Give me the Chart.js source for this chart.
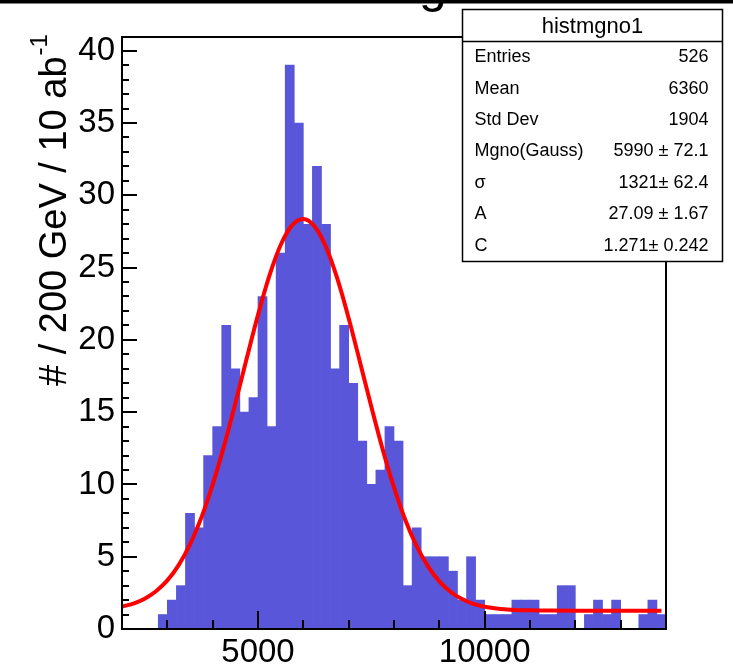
<!DOCTYPE html>
<html>
<head>
<meta charset="utf-8">
<script src="https://cdn.jsdelivr.net/npm/chart.js@4.4.1/dist/chart.umd.min.js"></script>
<style>
  html, body { margin: 0; padding: 0; background: #fff; }
  canvas { display: block; }
</style>
</head>
<body>
<canvas id="histChart" width="733" height="667"></canvas>
<script>
// histogram: 200 GeV bins from 2000 to 14000
const binStart = 2000;
const binWidth = 200;
const binCounts = [
  0, 0, 0, 0, 1, 2, 3, 8, 7, 12,
  14, 21, 18, 15, 16, 23, 14, 26, 39, 35,
  28, 32, 28, 18, 21, 17, 13, 10, 11, 14,
  13, 3, 7, 5, 5, 5, 4, 2, 5, 2,
  1, 1, 1, 2, 2, 2, 1, 1, 3, 3,
  0, 1, 2, 1, 2, 0, 0, 1, 2, 1
];

// fit curve
const curveX = [2000, 2250, 2500, 2750, 3000, 3250, 3500, 3750, 4000, 4250,
  4500, 4750, 5000, 5250, 5500, 5750, 6000, 6250, 6500, 6750,
  7000, 7250, 7500, 7750, 8000, 8250, 8500, 8750, 9000, 9250,
  9500, 9750, 10000, 10500, 11000, 11500, 12000, 13000, 13900];
const curveY = [1.55, 1.76, 2.1, 2.61, 3.36, 4.42, 5.86, 7.7, 9.99, 12.65,
  15.61, 18.71, 21.73, 24.43, 26.56, 27.92, 28.36, 27.84, 26.42, 24.23,
  21.5, 18.46, 15.37, 12.42, 9.79, 7.54, 5.73, 4.33, 3.29, 2.56,
  2.07, 1.74, 1.54, 1.35, 1.29, 1.275, 1.271, 1.271, 1.271];

const xTickLabels = [5000, 10000];
const yTickStep = 5;

const statTitle = 'histmgno1';
const statLabels = ['Entries', 'Mean', 'Std Dev', 'Mgno(Gauss)', '\u03c3', 'A', 'C'];
const statValues = ['526', '6360', '1904', '5990 \u00b1 72.1', '1321\u00b1 62.4', '27.09 \u00b1 1.67', '1.271\u00b1 0.242'];

const yTitle = '# / 200 GeV / 10 ab';
const yTitleSup = '-1';

const FONT = '"Liberation Sans", Arial, Helvetica, sans-serif';
Chart.defaults.font.family = FONT;
Chart.defaults.color = '#000';

const barData = binCounts.map((c, i) => ({ x: binStart + binWidth * (i + 0.5), y: c }));
const curveData = curveX.map((x, i) => ({ x: x, y: curveY[i] }));

// frame and inward ticks, ROOT style
const frameAndTicks = {
  id: 'frameAndTicks',
  afterDatasetsDraw(chart) {
    const { ctx, chartArea: a, scales: { x, y } } = chart;
    ctx.save();
    ctx.strokeStyle = '#000';
    ctx.lineWidth = 2;
    ctx.strokeRect(a.left, a.top, a.right - a.left, a.bottom - a.top);
    ctx.beginPath();
    for (let v = 0; v <= 40; v++) {
      const py = Math.round(y.getPixelForValue(v));
      const len = v % yTickStep === 0 ? 15 : 7;
      ctx.moveTo(a.left, py);
      ctx.lineTo(a.left + len, py);
    }
    for (let v = 3000; v <= 13000; v += 1000) {
      const px = Math.round(x.getPixelForValue(v));
      const len = xTickLabels.includes(v) ? 18 : 9;
      ctx.moveTo(px, a.bottom);
      ctx.lineTo(px, a.bottom - len);
    }
    ctx.stroke();
    ctx.restore();
  },
  afterDraw(chart) {
    const ctx = chart.ctx;
    ctx.save();

    // cut-off title at the top
    ctx.fillStyle = '#000';
    ctx.font = '50px ' + FONT;
    ctx.textBaseline = 'alphabetic';
    ctx.fillText('g', 419, 2);
    ctx.fillRect(0, 0, 733, 3.5);

    // y axis title
    ctx.save();
    ctx.translate(66, 386);
    ctx.rotate(-Math.PI / 2);
    ctx.font = '38px ' + FONT;
    ctx.textAlign = 'left';
    ctx.fillText(yTitle, 0, 0);
    const w = ctx.measureText(yTitle).width;
    ctx.font = '24px ' + FONT;
    ctx.fillText(yTitleSup, w + 1, -19);
    ctx.restore();

    // stats box
    const bx = 462.5, by = 9.5, bw = 260, bh = 252, head = 32;
    ctx.fillStyle = '#fff';
    ctx.fillRect(bx, by, bw, bh);
    ctx.strokeStyle = '#000';
    ctx.lineWidth = 1.5;
    ctx.strokeRect(bx, by, bw, bh);
    ctx.beginPath();
    ctx.moveTo(bx, by + head);
    ctx.lineTo(bx + bw, by + head);
    ctx.stroke();

    ctx.fillStyle = '#000';
    ctx.textBaseline = 'middle';
    ctx.textAlign = 'center';
    ctx.font = '22px ' + FONT;
    ctx.fillText(statTitle, bx + bw / 2, by + head / 2 + 1);

    const rowH = (bh - head) / statLabels.length;
    ctx.font = '18px ' + FONT;
    statLabels.forEach((lab, i) => {
      const cy = by + head + rowH * (i + 0.5);
      ctx.textAlign = 'left';
      ctx.fillText(lab, bx + 12, cy);
      ctx.textAlign = 'right';
      ctx.fillText(statValues[i], bx + bw - 14, cy);
    });
    ctx.restore();
  }
};

new Chart(document.getElementById('histChart'), {
  type: 'bar',
  data: {
    datasets: [
      {
        type: 'line',
        data: curveData,
        borderColor: '#ff0000',
        borderWidth: 4,
        pointRadius: 0,
        cubicInterpolationMode: 'monotone',
        fill: false,
        order: 0
      },
      {
        type: 'bar',
        data: barData,
        backgroundColor: '#5956d9',
        borderWidth: 0,
        barPercentage: 1.0,
        categoryPercentage: 1.0,
        order: 1
      }
    ]
  },
  options: {
    responsive: false,
    animation: false,
    devicePixelRatio: 1,
    layout: { padding: { top: 37, right: 67, left: 0, bottom: 0 } },
    plugins: { legend: { display: false }, tooltip: { enabled: false }, title: { display: false } },
    scales: {
      x: {
        type: 'linear',
        min: 2000,
        max: 14000,
        offset: false,
        grid: { display: false, drawTicks: false, offset: false },
        border: { display: false },
        ticks: {
          stepSize: 1000,
          includeBounds: false,
          autoSkip: false,
          maxRotation: 0,
          padding: 4,
          font: { size: 33 },
          callback: (v) => xTickLabels.includes(v) ? String(v) : ''
        },
        afterFit: (s) => { s.height = 38; }
      },
      y: {
        min: 0,
        max: 40.95,
        grid: { display: false, drawTicks: false },
        border: { display: false },
        ticks: {
          stepSize: yTickStep,
          includeBounds: false,
          padding: 7,
          font: { size: 33 },
          callback: (v) => String(v)
        },
        afterFit: (s) => { s.width = 122; }
      }
    }
  },
  plugins: [frameAndTicks]
});
</script>
</body>
</html>
